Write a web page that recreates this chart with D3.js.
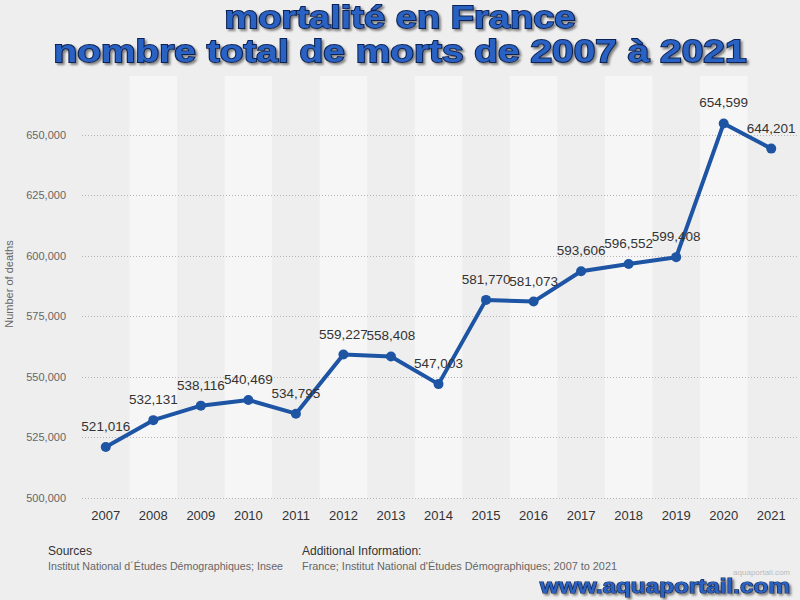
<!DOCTYPE html>
<html>
<head>
<meta charset="utf-8">
<script src="https://cdn.jsdelivr.net/npm/d3@7"></script>
<style>
  body { margin: 0; background: #eeeeee; }
  svg { display: block; }
  text { font-family: "Liberation Sans", Arial, sans-serif; }
</style>
</head>
<body>
<svg id="chart" width="800" height="600"></svg>
<script>
// values
const years = ['2007', '2008', '2009', '2010', '2011', '2012', '2013', '2014',
  '2015', '2016', '2017', '2018', '2019', '2020', '2021'];
const deaths = [521016, 532131, 538116, 540469, 534795, 559227, 558408, 547003,
  581770, 581073, 593606, 596552, 599408, 654599, 644201];
const yTicks = [500000, 525000, 550000, 575000, 600000, 625000, 650000];
const titleLines = ['mortalité en France', 'nombre total de morts de 2007 à 2021'];

const svg = d3.select('#chart');
const DIM = { width: 800, height: 600, left: 82, right: 795, top: 76, bottom: 498 };

svg.append('rect').attr('width', DIM.width).attr('height', DIM.height).attr('fill', '#eeeeee');

const xScale = d3.scaleBand().domain(years).range([DIM.left, DIM.right]).padding(0);
const yScale = d3.scaleLinear().domain([500000, 675000]).range([DIM.bottom, 74]);
const cx = (d) => xScale(d) + xScale.bandwidth() / 2;

// alternating column bands
svg.append('g').selectAll('rect')
  .data(years.filter((d, i) => i % 2 === 1))
  .join('rect')
  .attr('x', (d) => xScale(d))
  .attr('y', DIM.top)
  .attr('width', xScale.bandwidth())
  .attr('height', DIM.bottom - DIM.top)
  .attr('fill', '#f6f6f6');

// dotted grid
svg.append('g').selectAll('line')
  .data(yTicks)
  .join('line')
  .attr('x1', DIM.left)
  .attr('x2', 798)
  .attr('y1', (d) => Math.round(yScale(d)) + 0.5)
  .attr('y2', (d) => Math.round(yScale(d)) + 0.5)
  .attr('stroke', '#b5b5b5')
  .attr('stroke-dasharray', '1,2');

// y axis
const yAxis = svg.append('g')
  .attr('transform', 'translate(70,0)')
  .call(d3.axisLeft(yScale).tickValues(yTicks).tickSize(0).tickPadding(4)
    .tickFormat(d3.format(',')));
yAxis.select('.domain').remove();
yAxis.selectAll('text')
  .attr('font-family', '"Liberation Sans", Arial, sans-serif')
  .attr('font-size', 11).attr('fill', '#666');

svg.append('text')
  .text('Number of deaths')
  .attr('transform', 'translate(13,284) rotate(-90)')
  .attr('text-anchor', 'middle')
  .attr('font-size', 11)
  .attr('fill', '#666');

// x axis
const xAxis = svg.append('g')
  .attr('transform', `translate(0,${DIM.bottom})`)
  .call(d3.axisBottom(xScale).tickSize(0).tickPadding(13));
xAxis.select('.domain').remove();
xAxis.selectAll('text')
  .attr('font-family', '"Liberation Sans", Arial, sans-serif')
  .attr('font-size', 13).attr('fill', '#333');

// line + markers
const line = d3.line()
  .x((d, i) => cx(years[i]))
  .y((d) => yScale(d));

svg.append('path')
  .datum(deaths)
  .attr('d', line)
  .attr('fill', 'none')
  .attr('stroke', '#1d54a4')
  .attr('stroke-width', 4)
  .attr('stroke-linejoin', 'round');

svg.append('g').selectAll('circle')
  .data(deaths)
  .join('circle')
  .attr('cx', (d, i) => cx(years[i]))
  .attr('cy', (d) => yScale(d))
  .attr('r', 5)
  .attr('fill', '#1d54a4');

svg.append('g').selectAll('text')
  .data(deaths)
  .join('text')
  .text((d) => d3.format(',')(d))
  .attr('x', (d, i) => cx(years[i]))
  .attr('y', (d) => yScale(d) - 16)
  .attr('text-anchor', 'middle')
  .attr('font-size', 13.5)
  .attr('fill', '#333');

// title with outline and shadow
const defs = svg.append('defs');
const shadow = defs.append('filter').attr('id', 'shadow')
  .attr('x', '-5%').attr('y', '-20%').attr('width', '110%').attr('height', '150%');
shadow.append('feDropShadow')
  .attr('dx', 2).attr('dy', 2).attr('stdDeviation', 1)
  .attr('flood-color', '#555').attr('flood-opacity', 0.7);

const titleWidths = [351, 693];
svg.append('g').attr('filter', 'url(#shadow)').selectAll('text')
  .data(titleLines)
  .join('text')
  .text((d) => d)
  .attr('x', 400)
  .attr('y', (d, i) => 28 + i * 34)
  .attr('text-anchor', 'middle')
  .attr('font-family', '"DejaVu Sans", Verdana, sans-serif')
  .attr('font-weight', 'bold')
  .attr('font-size', 31)
  .attr('textLength', (d, i) => titleWidths[i])
  .attr('lengthAdjust', 'spacingAndGlyphs')
  .attr('fill', '#2b62c4')
  .attr('stroke', '#0c2454')
  .attr('stroke-width', 1.8)
  .attr('paint-order', 'stroke');

// footer
const foot = svg.append('g').attr('font-family', '"Liberation Sans Narrow", "Liberation Sans", Arial, sans-serif');
foot.append('text').text('Sources').attr('x', 48).attr('y', 555)
  .attr('font-size', 12).attr('fill', '#333');
foot.append('text').text('Institut National d´Études Démographiques; Insee')
  .attr('x', 48).attr('y', 570).attr('font-size', 11).attr('fill', '#666')
  .attr('textLength', 235).attr('lengthAdjust', 'spacingAndGlyphs');
foot.append('text').text('Additional Information:').attr('x', 302).attr('y', 555)
  .attr('font-size', 12).attr('fill', '#333');
foot.append('text').text('France; Institut National d\'Études Démographiques; 2007 to 2021')
  .attr('x', 302).attr('y', 570).attr('font-size', 11).attr('fill', '#666')
  .attr('textLength', 315).attr('lengthAdjust', 'spacingAndGlyphs');

// watermark
svg.append('text')
  .text('www.aquaportail.com')
  .attr('x', 790).attr('y', 593)
  .attr('text-anchor', 'end')
  .attr('font-family', '"DejaVu Sans", Verdana, sans-serif')
  .attr('font-weight', 'bold')
  .attr('font-size', 20)
  .attr('textLength', 250)
  .attr('lengthAdjust', 'spacingAndGlyphs')
  .attr('fill', '#2b62c4')
  .attr('stroke', '#0c2454')
  .attr('stroke-width', 1.2)
  .attr('paint-order', 'stroke')
  .attr('filter', 'url(#shadow)');
svg.append('text')
  .text('aquaportail.com')
  .attr('x', 790).attr('y', 575)
  .attr('text-anchor', 'end')
  .attr('font-size', 8)
  .attr('fill', '#bbb');
</script>
</body>
</html>
